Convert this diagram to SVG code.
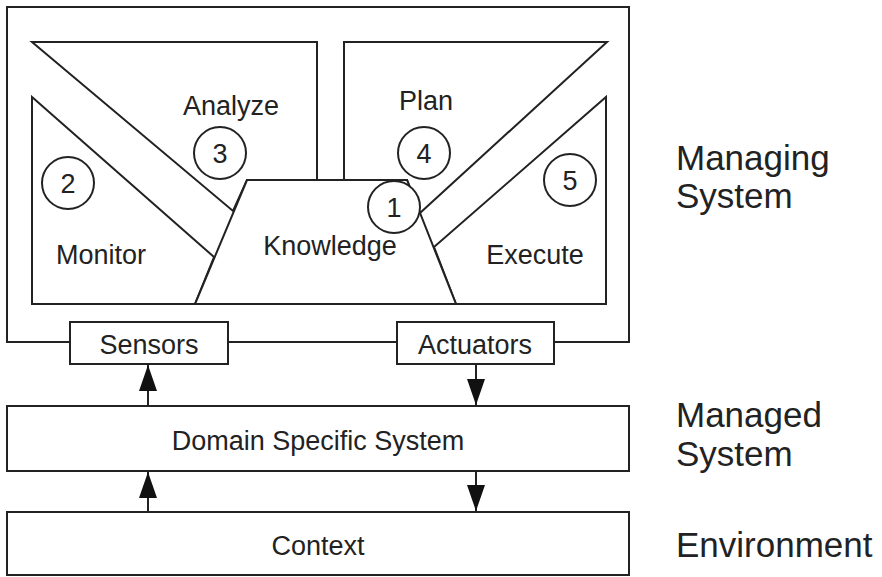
<svg xmlns="http://www.w3.org/2000/svg" width="882" height="577" viewBox="0 0 882 577">
  <defs>
    <style>
      .shape { fill: #ffffff; stroke: #222222; stroke-width: 2; stroke-linejoin: miter; }
      .circ { fill: #ffffff; stroke: #222222; stroke-width: 2; }
      .lbl { font-family: "Liberation Sans", Arial, sans-serif; font-size: 27px; fill: #222222; text-anchor: middle; }
      .num { font-family: "Liberation Sans", Arial, sans-serif; font-size: 27px; fill: #222222; text-anchor: middle; }
      .side { font-family: "Liberation Sans", Arial, sans-serif; font-size: 35px; fill: #222222; }
      .conn { stroke: #222222; stroke-width: 2; fill: none; }
    </style>
    <marker id="arrow" markerUnits="userSpaceOnUse" markerWidth="26" markerHeight="18" refX="26" refY="9" orient="auto">
      <path d="M0,0 L26,9 L0,18 z" fill="#111111"/>
    </marker>
  </defs>
  <rect width="882" height="577" fill="#ffffff"/>

  <g id="managing-system">
    <rect class="shape" x="7" y="7" width="622" height="335"/>
  </g>

  <g id="analyze">
    <polygon class="shape" points="32,42 317,42 317,180 247,180 233,211"/>
    <text class="lbl" x="231" y="115">Analyze</text>
  </g>
  <g id="monitor">
    <polygon class="shape" points="32,97 214,257 195,304 32,304"/>
    <text class="lbl" x="101" y="264">Monitor</text>
  </g>
  <g id="plan">
    <polygon class="shape" points="344,42 607,42 420,213 407,180 344,180"/>
    <text class="lbl" x="426" y="110">Plan</text>
  </g>
  <g id="execute">
    <polygon class="shape" points="606,97 606,304 456,304 434,247"/>
    <text class="lbl" x="535" y="264">Execute</text>
  </g>
  <g id="knowledge">
    <polygon class="shape" points="247,180 407,180 456,304 195,304"/>
    <text class="lbl" x="330" y="255">Knowledge</text>
  </g>

  <g id="step2">
    <circle class="circ" cx="68" cy="183" r="26"/>
    <text class="num" x="68" y="193">2</text>
  </g>
  <g id="step3">
    <circle class="circ" cx="220" cy="153" r="26"/>
    <text class="num" x="220" y="163">3</text>
  </g>
  <g id="step4">
    <circle class="circ" cx="424" cy="153" r="26"/>
    <text class="num" x="424" y="163">4</text>
  </g>
  <g id="step5">
    <circle class="circ" cx="570" cy="180" r="26"/>
    <text class="num" x="570" y="190">5</text>
  </g>
  <g id="step1">
    <circle class="circ" cx="394" cy="207" r="26"/>
    <text class="num" x="394" y="217">1</text>
  </g>

  <g id="sensors">
    <rect class="shape" x="70" y="322" width="158" height="42"/>
    <text class="lbl" x="149" y="354">Sensors</text>
  </g>
  <g id="actuators">
    <rect class="shape" x="397" y="322" width="157" height="42"/>
    <text class="lbl" x="475" y="354">Actuators</text>
  </g>

  <g id="domain">
    <rect class="shape" x="7" y="406" width="622" height="65"/>
    <text class="lbl" x="318" y="450">Domain Specific System</text>
  </g>
  <g id="context">
    <rect class="shape" x="7" y="512" width="622" height="63"/>
    <text class="lbl" x="318" y="555">Context</text>
  </g>

  <g id="connectors">
    <line class="conn" x1="148" y1="406" x2="148" y2="365" marker-end="url(#arrow)"/>
    <line class="conn" x1="476" y1="364" x2="476" y2="405" marker-end="url(#arrow)"/>
    <line class="conn" x1="148" y1="512" x2="148" y2="472" marker-end="url(#arrow)"/>
    <line class="conn" x1="476" y1="471" x2="476" y2="511" marker-end="url(#arrow)"/>
  </g>

  <g id="layer-labels">
    <text class="side" x="676" y="170">Managing</text>
    <text class="side" x="676" y="208">System</text>
    <text class="side" x="676" y="427">Managed</text>
    <text class="side" x="676" y="466">System</text>
    <text class="side" x="676" y="557">Environment</text>
  </g>
</svg>
